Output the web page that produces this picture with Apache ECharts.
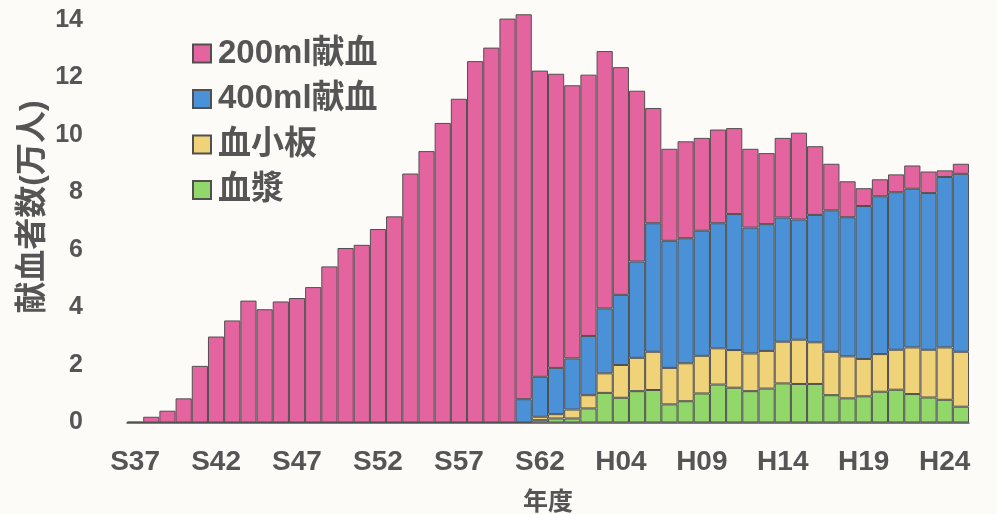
<!DOCTYPE html>
<html>
<head>
<meta charset="utf-8">
<script src="https://cdn.jsdelivr.net/npm/echarts@6/dist/echarts.min.js"></script>
<style>
html,body{margin:0;padding:0;background:#fcfbf7;overflow:hidden;}
#chart{width:997px;height:514px;}
</style>
</head>
<body>
<div id="chart"></div>
<script>
var categories = [
  'S37','S38','S39','S40','S41','S42','S43','S44','S45','S46',
  'S47','S48','S49','S50','S51','S52','S53','S54','S55','S56',
  'S57','S58','S59','S60','S61','S62','S63','H01','H02','H03',
  'H04','H05','H06','H07','H08','H09','H10','H11','H12','H13',
  'H14','H15','H16','H17','H18','H19','H20','H21','H22','H23',
  'H24','H25'
];
var seriesNames = ['200ml献血','400ml献血','血小板','血漿'];
var yTicks = [0, 2, 4, 6, 8, 10, 12, 14];

var plasma = [
  0,0,0,0,0,0,0,0,0,0,
  0,0,0,0,0,0,0,0,0,0,
  0,0,0,0,0,0.08,0.14,0.14,0.49,1.03,
  0.86,1.09,1.13,0.63,0.74,1.01,1.32,1.21,1.09,1.18,
  1.36,1.34,1.34,0.95,0.84,0.91,1.07,1.14,0.99,0.87,
  0.79,0.55
];
var platelet = [
  0,0,0,0,0,0,0,0,0,0,
  0,0,0,0,0,0,0,0,0,0,
  0,0,0,0,0,0.12,0.15,0.31,0.46,0.68,
  1.14,1.16,1.33,1.27,1.32,1.31,1.26,1.31,1.31,1.31,
  1.45,1.54,1.45,1.51,1.46,1.30,1.31,1.39,1.62,1.66,
  1.82,1.91
];
var ml400 = [
  0,0,0,0,0,0,0,0,0,0,
  0,0,0,0,0,0,0,0,0,0,
  0,0,0,0,0.81,1.39,1.61,1.78,2.06,2.26,
  2.44,3.35,4.47,4.42,4.35,4.35,4.35,4.73,4.38,4.41,
  4.32,4.18,4.43,4.92,4.84,5.32,5.49,5.48,5.52,5.45,
  5.93,6.19
];
var ml200 = [
  0.03,0.20,0.41,0.84,1.97,2.99,3.55,4.24,3.94,4.21,
  4.33,4.71,5.43,6.07,6.18,6.73,7.17,8.66,9.44,10.42,
  11.26,12.57,13.04,14.05,13.39,10.65,10.23,9.50,9.09,8.95,
  7.92,5.94,4.01,3.20,3.37,3.23,3.26,2.99,2.74,2.47,
  2.77,3.02,2.39,1.62,1.25,0.62,0.59,0.62,0.81,0.75,
  0.23,0.35
];

var colors = {
  '200ml献血': '#e464a0',
  '400ml献血': '#4b91d7',
  '血小板': '#f0d278',
  '血漿': '#91d769'
};
var txt = '#555555';
var fam = '"Liberation Sans", "Noto Sans CJK JP", sans-serif';

function mk(name, data) {
  return {
    name: name,
    type: 'bar',
    stack: 'total',
    data: data,
    clip: false,
    barCategoryGap: '0%',
    itemStyle: { color: colors[name], borderColor: '#505050', borderWidth: 1 },
    emphasis: { disabled: true }
  };
}

var chart = echarts.init(document.getElementById('chart'), null, { width: 997, height: 514 });
chart.setOption({
  backgroundColor: '#fcfbf7',
  animation: false,
  textStyle: { fontFamily: fam },
  grid: { left: 127, width: 842, top: 20, height: 402.5, containLabel: false, outerBoundsMode: 'none' },
  legend: {
    data: seriesNames,
    orient: 'vertical',
    left: 192,
    top: 37,
    itemWidth: 18,
    itemHeight: 18,
    itemGap: 12.5,
    icon: 'rect',
    padding: 0,
    textStyle: { fontSize: 33, fontWeight: 'bold', color: txt, fontFamily: fam, padding: [0, 0, 0, 2] }
  },
  graphic: [{
    type: 'text',
    x: 33,
    y: 207,
    rotation: Math.PI / 2,
    style: {
      text: '献血者数(万人)',
      fontSize: 32,
      fontWeight: 'bold',
      fill: txt,
      fontFamily: fam,
      align: 'center',
      verticalAlign: 'middle'
    }
  }],
  xAxis: {
    type: 'category',
    data: categories,
    name: '年度',
    nameLocation: 'middle',
    nameGap: 68,
    nameTextStyle: { fontSize: 25, fontWeight: 'bold', color: txt, fontFamily: fam },
    axisLine: { show: true, lineStyle: { color: '#555555', width: 1.5 } },
    axisTick: { show: false },
    axisLabel: { interval: 4, fontSize: 28, fontWeight: 'bold', color: txt, margin: 26, fontFamily: fam },
    splitLine: { show: false }
  },
  yAxis: {
    type: 'value',
    min: yTicks[0],
    max: yTicks[yTicks.length - 1],
    interval: 2,
    axisLine: { show: false },
    axisTick: { show: false },
    splitLine: { show: false },
    axisLabel: { fontSize: 25, fontWeight: 'bold', color: txt, margin: 44, fontFamily: fam }
  },
  series: [
    mk('血漿', plasma),
    mk('血小板', platelet),
    mk('400ml献血', ml400),
    mk('200ml献血', ml200)
  ]
});
</script>
</body>
</html>
